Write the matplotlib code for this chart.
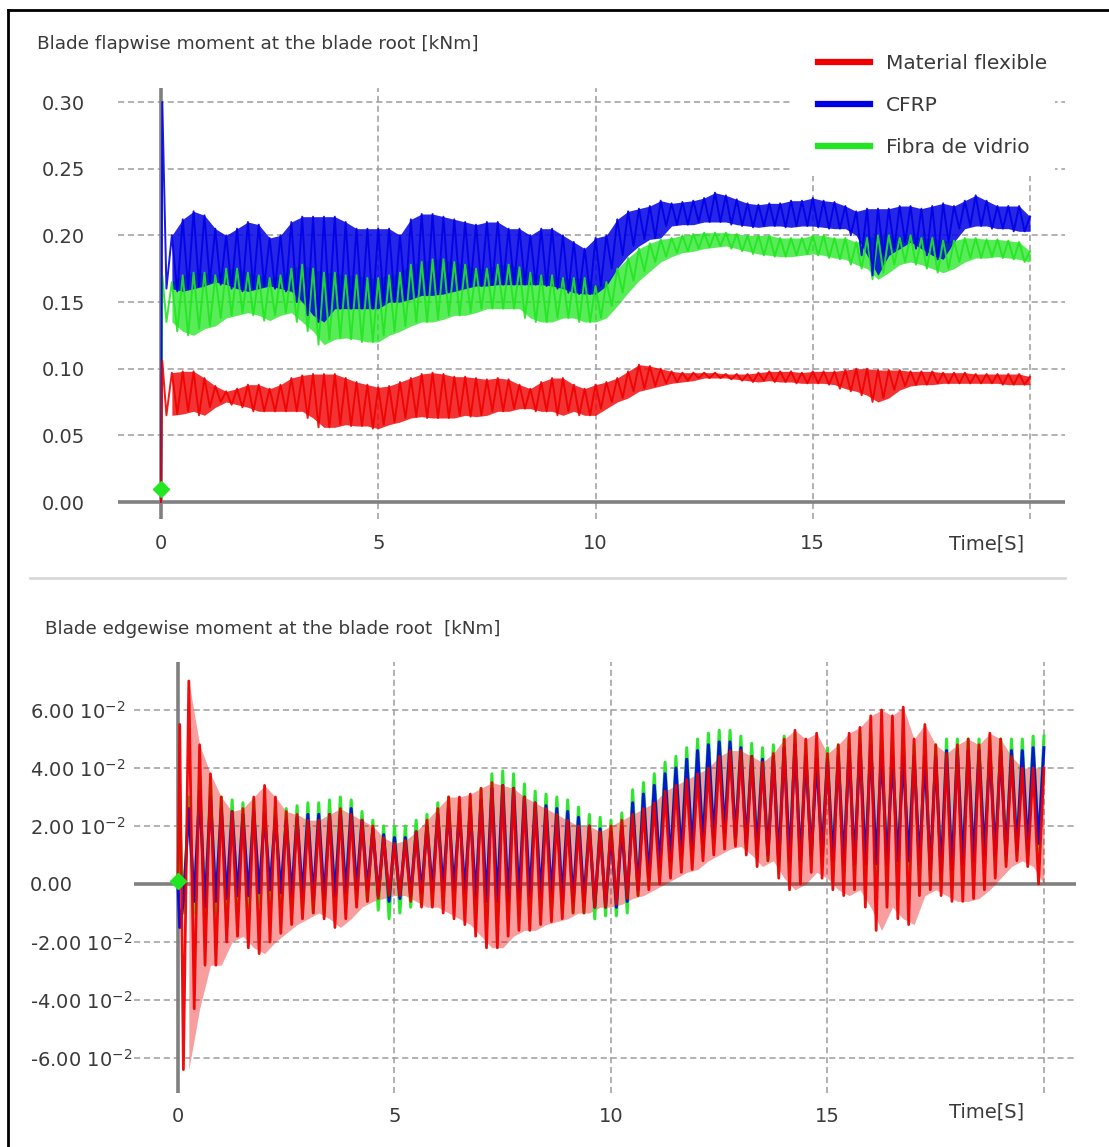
# Blade root moments (flapwise / edgewise) for three blade materials
import numpy as np
import matplotlib.pyplot as plt
from matplotlib.lines import Line2D
from matplotlib.patches import Rectangle

RED = '#f00000'
BLUE = '#0000e6'
GREEN = '#22e622'
GRAY = '#808080'
TXT = '#3a3a3a'

names = ['Material flexible', 'CFRP', 'Fibra de vidrio']

# peak samples: highs at T_HI, lows half a step earlier
T_HI = np.arange(0.25, 20.001, 0.25)
T_LO = T_HI - 0.125

# ---- flapwise moment [kNm] ----
flap_t0 = [0.0, 0.03]
flap_red0 = [0.0, 0.106]
flap_blue0 = [0.0, 0.300]
flap_green0 = [0.0, 0.170]

flap_red_hi = [
    0.097, 0.098, 0.098, 0.093, 0.087, 0.083, 0.085, 0.088, 0.088, 0.085, 0.088, 0.093, 0.095, 0.096, 0.096, 0.096, 0.093, 0.090, 0.088, 0.086,
    0.087, 0.090, 0.093, 0.096, 0.097, 0.096, 0.094, 0.094, 0.093, 0.092, 0.093, 0.092, 0.088, 0.085, 0.090, 0.093, 0.093, 0.088, 0.085, 0.088,
    0.090, 0.093, 0.098, 0.103, 0.102, 0.100, 0.098, 0.097, 0.097, 0.097, 0.097, 0.096, 0.096, 0.096, 0.097, 0.098, 0.098, 0.098, 0.097, 0.098,
    0.098, 0.098, 0.099, 0.100, 0.100, 0.099, 0.099, 0.099, 0.098, 0.098, 0.098, 0.097, 0.097, 0.097, 0.096, 0.096, 0.096, 0.096, 0.096, 0.094]
flap_red_lo = [
    0.065, 0.066, 0.068, 0.065, 0.071, 0.075, 0.073, 0.071, 0.068, 0.068, 0.068, 0.068, 0.068, 0.063, 0.056, 0.056, 0.058, 0.057, 0.057, 0.055,
    0.058, 0.060, 0.063, 0.064, 0.063, 0.063, 0.063, 0.065, 0.064, 0.065, 0.068, 0.068, 0.070, 0.070, 0.068, 0.068, 0.065, 0.068, 0.065, 0.065,
    0.070, 0.075, 0.078, 0.083, 0.085, 0.087, 0.089, 0.090, 0.091, 0.093, 0.093, 0.093, 0.092, 0.091, 0.090, 0.091, 0.090, 0.090, 0.089, 0.089,
    0.089, 0.088, 0.085, 0.083, 0.080, 0.075, 0.078, 0.084, 0.087, 0.088, 0.088, 0.089, 0.089, 0.089, 0.089, 0.089, 0.089, 0.088, 0.088, 0.088]

flap_blue_hi = [
    0.200, 0.212, 0.218, 0.215, 0.205, 0.200, 0.205, 0.210, 0.208, 0.198, 0.200, 0.210, 0.214, 0.214, 0.214, 0.214, 0.210, 0.205, 0.205, 0.205,
    0.205, 0.200, 0.212, 0.216, 0.216, 0.214, 0.212, 0.210, 0.208, 0.210, 0.210, 0.205, 0.205, 0.200, 0.205, 0.205, 0.200, 0.195, 0.190, 0.198,
    0.200, 0.212, 0.218, 0.220, 0.222, 0.226, 0.224, 0.225, 0.226, 0.228, 0.232, 0.230, 0.227, 0.224, 0.223, 0.224, 0.224, 0.226, 0.226, 0.228,
    0.226, 0.225, 0.222, 0.218, 0.220, 0.220, 0.220, 0.222, 0.222, 0.220, 0.222, 0.224, 0.222, 0.226, 0.230, 0.226, 0.222, 0.222, 0.222, 0.214]
flap_blue_lo = [
    0.160, 0.158, 0.160, 0.162, 0.165, 0.163, 0.160, 0.158, 0.160, 0.162, 0.160, 0.158, 0.150, 0.140, 0.135, 0.145, 0.145, 0.145, 0.145, 0.145,
    0.150, 0.150, 0.152, 0.155, 0.155, 0.156, 0.158, 0.160, 0.162, 0.162, 0.163, 0.163, 0.163, 0.163, 0.163, 0.162, 0.160, 0.157, 0.156, 0.156,
    0.162, 0.175, 0.185, 0.192, 0.197, 0.198, 0.207, 0.208, 0.208, 0.210, 0.210, 0.210, 0.208, 0.207, 0.206, 0.207, 0.207, 0.206, 0.207, 0.207,
    0.206, 0.205, 0.205, 0.200, 0.185, 0.170, 0.185, 0.190, 0.195, 0.190, 0.185, 0.182, 0.195, 0.205, 0.207, 0.207, 0.205, 0.205, 0.203, 0.203]

flap_green_hi = [
    0.165, 0.170, 0.172, 0.172, 0.170, 0.175, 0.175, 0.172, 0.170, 0.168, 0.170, 0.175, 0.178, 0.175, 0.172, 0.172, 0.170, 0.170, 0.168, 0.168,
    0.170, 0.172, 0.178, 0.180, 0.182, 0.182, 0.180, 0.178, 0.175, 0.175, 0.178, 0.178, 0.176, 0.172, 0.170, 0.170, 0.168, 0.168, 0.168, 0.162,
    0.165, 0.175, 0.183, 0.190, 0.194, 0.197, 0.198, 0.200, 0.201, 0.202, 0.202, 0.202, 0.201, 0.200, 0.200, 0.200, 0.198, 0.198, 0.198, 0.200,
    0.200, 0.198, 0.198, 0.195, 0.198, 0.200, 0.200, 0.198, 0.200, 0.198, 0.198, 0.196, 0.196, 0.198, 0.198, 0.197, 0.197, 0.196, 0.195, 0.188]
flap_green_lo = [
    0.135, 0.128, 0.125, 0.130, 0.132, 0.138, 0.140, 0.142, 0.140, 0.136, 0.140, 0.142, 0.135, 0.128, 0.118, 0.122, 0.123, 0.122, 0.120, 0.120,
    0.125, 0.128, 0.132, 0.135, 0.135, 0.137, 0.140, 0.140, 0.142, 0.145, 0.145, 0.145, 0.145, 0.138, 0.135, 0.135, 0.138, 0.138, 0.135, 0.135,
    0.138, 0.147, 0.157, 0.166, 0.173, 0.180, 0.184, 0.187, 0.188, 0.190, 0.191, 0.192, 0.190, 0.188, 0.186, 0.185, 0.184, 0.184, 0.185, 0.186,
    0.185, 0.183, 0.182, 0.178, 0.175, 0.167, 0.172, 0.178, 0.180, 0.178, 0.175, 0.172, 0.175, 0.180, 0.183, 0.183, 0.184, 0.183, 0.182, 0.180]

# ---- edgewise moment [kNm] ----
edge_t0 = [0.0, 0.04]
edge_red0 = [0.0, 0.055]
edge_blue0 = [0.0, -0.015]
edge_green0 = [0.0, 0.025]

edge_red_hi = [
    0.070, 0.048, 0.038, 0.030, 0.025, 0.026, 0.030, 0.034, 0.030, 0.025, 0.024, 0.022, 0.022, 0.024, 0.026, 0.024, 0.022, 0.020, 0.016, 0.014,
    0.015, 0.018, 0.022, 0.026, 0.030, 0.030, 0.031, 0.033, 0.035, 0.034, 0.033, 0.030, 0.028, 0.026, 0.024, 0.022, 0.020, 0.020, 0.018, 0.020,
    0.022, 0.024, 0.026, 0.028, 0.032, 0.034, 0.036, 0.038, 0.040, 0.044, 0.046, 0.046, 0.044, 0.042, 0.045, 0.050, 0.053, 0.050, 0.052, 0.045,
    0.048, 0.052, 0.054, 0.058, 0.060, 0.058, 0.061, 0.050, 0.055, 0.048, 0.045, 0.048, 0.050, 0.048, 0.052, 0.050, 0.044, 0.040, 0.040, 0.040]
edge_red_lo = [
    -0.064, -0.043, -0.028, -0.028, -0.020, -0.018, -0.022, -0.024, -0.020, -0.017, -0.014, -0.012, -0.010, -0.012, -0.015, -0.012, -0.008, -0.006, -0.005, -0.004,
    -0.004, -0.006, -0.008, -0.008, -0.010, -0.012, -0.014, -0.018, -0.022, -0.022, -0.018, -0.016, -0.016, -0.014, -0.013, -0.012, -0.010, -0.010, -0.008, -0.008,
    -0.007, -0.005, -0.004, -0.002, 0.000, 0.002, 0.004, 0.005, 0.008, 0.010, 0.012, 0.013, 0.010, 0.006, 0.008, 0.002, -0.002, 0.000, 0.004, 0.002,
    -0.002, -0.004, -0.002, -0.008, -0.016, -0.008, -0.012, -0.014, -0.004, -0.002, -0.004, -0.006, -0.006, -0.005, -0.002, 0.002, 0.006, 0.008, 0.006, 0.000]

edge_blue_hi = [
    0.026, 0.032, 0.030, 0.026, 0.025, 0.024, 0.025, 0.024, 0.023, 0.022, 0.023, 0.024, 0.024, 0.024, 0.025, 0.026, 0.022, 0.019, 0.017, 0.016,
    0.016, 0.018, 0.020, 0.024, 0.026, 0.025, 0.026, 0.029, 0.033, 0.034, 0.033, 0.030, 0.028, 0.027, 0.026, 0.025, 0.023, 0.020, 0.019, 0.018,
    0.020, 0.028, 0.031, 0.034, 0.038, 0.040, 0.043, 0.046, 0.048, 0.049, 0.049, 0.047, 0.044, 0.043, 0.044, 0.047, 0.048, 0.044, 0.043, 0.043,
    0.044, 0.046, 0.048, 0.048, 0.046, 0.044, 0.044, 0.044, 0.044, 0.044, 0.046, 0.046, 0.046, 0.046, 0.046, 0.046, 0.046, 0.046, 0.047, 0.047]
edge_blue_lo = [
    -0.006, -0.006, -0.008, -0.006, -0.005, -0.004, -0.004, -0.003, -0.002, -0.003, -0.004, -0.004, -0.005, -0.005, -0.004, -0.003, -0.002, -0.002, -0.004, -0.006,
    -0.005, -0.004, -0.003, -0.002, -0.002, -0.002, -0.003, -0.005, -0.006, -0.006, -0.006, -0.005, -0.004, -0.004, -0.004, -0.005, -0.006, -0.006, -0.008, -0.008,
    -0.008, -0.006, -0.002, 0.002, 0.006, 0.008, 0.010, 0.012, 0.014, 0.016, 0.018, 0.016, 0.014, 0.012, 0.010, 0.008, 0.008, 0.008, 0.010, 0.010,
    0.008, 0.007, 0.007, 0.007, 0.007, 0.007, 0.008, 0.008, 0.007, 0.005, 0.004, 0.005, 0.007, 0.008, 0.010, 0.010, 0.010, 0.012, 0.012, 0.014]

edge_green_hi = [
    0.030, 0.037, 0.036, 0.030, 0.029, 0.028, 0.029, 0.028, 0.0265, 0.026, 0.027, 0.028, 0.028, 0.029, 0.030, 0.029, 0.025, 0.022, 0.020, 0.020,
    0.020, 0.022, 0.024, 0.028, 0.030, 0.028, 0.030, 0.033, 0.038, 0.039, 0.038, 0.0345, 0.032, 0.031, 0.030, 0.029, 0.0265, 0.024, 0.023, 0.022,
    0.0245, 0.0325, 0.035, 0.038, 0.042, 0.044, 0.047, 0.050, 0.052, 0.053, 0.053, 0.051, 0.0485, 0.047, 0.048, 0.051, 0.052, 0.0485, 0.047, 0.047,
    0.048, 0.050, 0.052, 0.052, 0.050, 0.0485, 0.0485, 0.048, 0.048, 0.048, 0.050, 0.050, 0.050, 0.050, 0.050, 0.050, 0.050, 0.050, 0.051, 0.051]
edge_green_lo = [
    -0.010, -0.010, -0.012, -0.010, -0.010, -0.009, -0.008, -0.007, -0.006, -0.008, -0.008, -0.009, -0.010, -0.010, -0.008, -0.006, -0.005, -0.006, -0.009, -0.012,
    -0.010, -0.008, -0.007, -0.006, -0.006, -0.006, -0.007, -0.010, -0.010, -0.010, -0.010, -0.010, -0.008, -0.008, -0.008, -0.009, -0.010, -0.010, -0.012, -0.011,
    -0.011, -0.010, -0.004, 0.000, 0.004, 0.006, 0.008, 0.010, 0.012, 0.014, 0.016, 0.014, 0.012, 0.010, 0.008, 0.006, 0.006, 0.006, 0.008, 0.008,
    0.006, 0.004, 0.004, 0.004, 0.004, 0.004, 0.006, 0.006, 0.004, 0.002, 0.000, 0.002, 0.004, 0.006, 0.008, 0.008, 0.008, 0.010, 0.010, 0.012]

flap_yticks = [0.0, 0.05, 0.10, 0.15, 0.20, 0.25, 0.30]
flap_ylabels = ['0.00', '0.05', '0.10', '0.15', '0.20', '0.25', '0.30']
edge_yticks = [-0.06, -0.04, -0.02, 0.0, 0.02, 0.04, 0.06]
edge_ylabels = ['-6.00 10$^{-2}$', '-4.00 10$^{-2}$', '-2.00 10$^{-2}$', '0.00',
                '2.00 10$^{-2}$', '4.00 10$^{-2}$', '6.00 10$^{-2}$']
xticks = [0, 5, 10, 15, 20]
xlabels = ['0', '5', '10', '15', '']


def trace(t0, v0, lo, hi):
    t = np.concatenate([t0, np.column_stack([T_LO, T_HI]).ravel()])
    v = np.concatenate([v0, np.column_stack([lo, hi]).ravel()])
    return t, v


W, H = 1109, 1147
fig = plt.figure(figsize=(W / 100, H / 100), dpi=100)


def px_axes(l, t, r, b):
    return fig.add_axes([l / W, 1 - b / H, (r - l) / W, (b - t) / H])


def style(ax, yticks, ylabels):
    for s in ax.spines.values():
        s.set_visible(False)
    ax.set_xticks(xticks)
    ax.set_xticklabels(xlabels)
    ax.set_yticks(yticks)
    ax.set_yticklabels(ylabels)
    ax.tick_params(length=0, labelsize=14, labelcolor=TXT)
    ax.grid(True, color='#9c9c9c', linestyle=(0, (4, 2.5)), linewidth=1.1)
    ax.set_axisbelow(True)
    ax.axhline(0, color=GRAY, lw=2.6, zorder=1)
    ax.axvline(0, color=GRAY, lw=2.6, zorder=1)


def draw(ax, t0, series):
    # each entry: start values, lows, highs, colour, fill alpha, line width, line alpha
    for v0, lo, hi, col, fa, lw, la in series:
        if fa > 0:
            ax.fill_between(T_HI, lo, hi, color=col, alpha=fa, lw=0, zorder=2)
        t, v = trace(t0, v0, lo, hi)
        ax.plot(t, v, color=col, lw=lw, alpha=la, zorder=3)


# top panel
ax1 = px_axes(118, 88, 1065, 519)
ax1.set_xlim(-0.9896, 20.805)
ax1.set_ylim(-0.01275, 0.3105)
style(ax1, flap_yticks, flap_ylabels)
ax1.tick_params(axis='y', pad=24)
ax1.tick_params(axis='x', pad=11)
draw(ax1, flap_t0, [
    (flap_green0, flap_green_lo, flap_green_hi, GREEN, 0.75, 1.4, 0.9),
    (flap_blue0, flap_blue_lo, flap_blue_hi, BLUE, 0.85, 1.4, 0.9),
    (flap_red0, flap_red_lo, flap_red_hi, RED, 0.8, 1.4, 0.9),
])
ax1.plot(0, 0.01, 'D', color=GREEN, ms=8, zorder=5)
ax1.set_xlabel('Time[S]', fontsize=14, color=TXT, ha='right')
ax1.xaxis.set_label_coords(0.9567, -0.037)

# bottom panel
ax2 = px_axes(134, 662, 1076, 1093)
ax2.set_xlim(-1.016, 20.74)
ax2.set_ylim(-0.07207, 0.07655)
style(ax2, edge_yticks, edge_ylabels)
for lab in ax2.get_yticklabels():
    lab.set_horizontalalignment('left')
ax2.tick_params(axis='y', pad=75)
ax2.tick_params(axis='x', pad=10)
draw(ax2, edge_t0, [
    (edge_green0, edge_green_lo, edge_green_hi, GREEN, 0.0, 2.2, 0.95),
    (edge_blue0, edge_blue_lo, edge_blue_hi, BLUE, 0.0, 2.2, 0.9),
    (edge_red0, edge_red_lo, edge_red_hi, RED, 0.38, 2.0, 0.95),
])
ax2.plot(0, 0.001, 'D', color=GREEN, ms=8, zorder=5)
ax2.set_xlabel('Time[S]', fontsize=14, color=TXT, ha='right')
ax2.xaxis.set_label_coords(0.9448, -0.021)

# titles
fig.text(37 / W, 1 - 44 / H, 'Blade flapwise moment at the blade root [kNm]',
         fontsize=13.3, color=TXT, va='center', ha='left')
fig.text(45 / W, 1 - 629 / H, 'Blade edgewise moment at the blade root  [kNm]',
         fontsize=13.2, color=TXT, va='center', ha='left')

# legend on a white patch
fig.add_artist(Rectangle((790 / W, 1 - 176 / H), 265 / W, 136 / H,
                         transform=fig.transFigure, facecolor='white',
                         edgecolor='none', zorder=3))
handles = [Line2D([], [], color=c, lw=4.5) for c in (RED, BLUE, GREEN)]
fig.legend(handles, names, loc='upper left', frameon=False, fontsize=14.5,
           bbox_to_anchor=(800 / W, 1 - 36 / H), handlelength=2.6,
           handletextpad=0.75, labelspacing=1.15, labelcolor=TXT)

# frame and separator
fig.add_artist(Line2D([8 / W, 8 / W], [0, 1 - 10 / H], color='black', lw=2,
                      transform=fig.transFigure))
fig.add_artist(Line2D([8 / W, 1], [1 - 10 / H, 1 - 10 / H], color='black', lw=2,
                      transform=fig.transFigure))
fig.add_artist(Line2D([30 / W, 1065 / W], [1 - 578 / H, 1 - 578 / H],
                      color='#d9d9d9', lw=2, transform=fig.transFigure))

fig.savefig('out.png', dpi=100)
